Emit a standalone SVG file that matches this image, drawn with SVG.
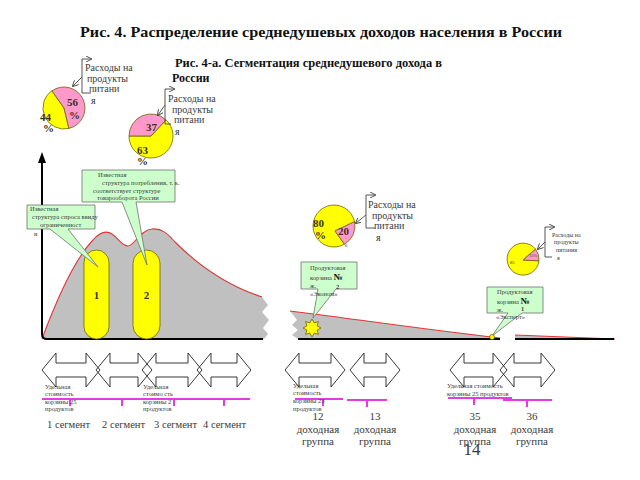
<svg xmlns="http://www.w3.org/2000/svg" width="640" height="480" viewBox="0 0 640 480">
<defs>
<style>
.t{font-family:"Liberation Serif","DejaVu Serif",serif;fill:#3a3a3a}
.h{font-family:"Liberation Serif","DejaVu Serif",serif;font-weight:bold;fill:#111}
.lbl{font-size:10px}
.tiny{font-size:6.5px}
.pn{font-family:"Liberation Serif",serif;font-weight:bold;font-size:11px;fill:#3a3020}
.yel{fill:#ffff00;stroke:#6b6400;stroke-width:0.8}
.pink{fill:#ff99cc;stroke:#6b6400;stroke-width:0.8}
.call{fill:#ccffcc;stroke:#707070;stroke-width:0.8}
.br{fill:none;stroke:#444;stroke-width:0.9}
.dbl{fill:none;stroke:#222;stroke-width:0.9}
.mag{stroke:#e23de2;stroke-width:2;fill:none}
.red{fill:none;stroke:#e03535;stroke-width:1.1}
.axis{fill:none;stroke:#000;stroke-width:2}
</style>
<marker id="ah" markerWidth="6" markerHeight="6" refX="5" refY="3" orient="auto" markerUnits="userSpaceOnUse">
<path d="M0,0 L6,3 L0,6" fill="none" stroke="#444" stroke-width="0.9"/>
</marker>
</defs>
<rect width="640" height="480" fill="#fff"/>

<!-- titles -->
<text class="h" x="80" y="37" font-size="15" textLength="482" lengthAdjust="spacingAndGlyphs">Рис. 4.  Распределение среднедушевых доходов населения в России</text>
<text class="h" x="175" y="67" font-size="12" textLength="267" lengthAdjust="spacingAndGlyphs">Рис. 4-а.  Сегментация среднедушевого дохода в</text>
<text class="h" x="172" y="82" font-size="12">России</text>

<!-- distribution shape -->
<g id="distribution">
<path d="M42,339 C52,312 72,262 93,240 C100,232 106,230 112,234 C118,238 122,246 128,246 C134,246 140,230 152,229 C162,228 168,234 175,242 C195,262 225,285 262,297 L268,305 L262,312 L269,320 L263,328 L268,334 L264,339 Z" fill="#c0c0c0"/>
<path class="red" d="M42,339 C52,312 72,262 93,240 C100,232 106,230 112,234 C118,238 122,246 128,246 C134,246 140,230 152,229 C162,228 168,234 175,242 C195,262 225,285 262,297"/>
<path d="M290,311 C340,317 420,329 493,337 L500,338 L500,339 L298,339 L292,335 L298,330 L292,325 L297,320 Z" fill="#c0c0c0"/>
<path class="red" d="M290,311 C340,317 420,329 500,338"/>
<path d="M515,335 L615,339 L515,339 Z" fill="#c0c0c0"/>
<path class="red" d="M515,335 L615,339"/>
<path class="axis" d="M42,160 L42,334 Q42,339 47,339 L263,339"/>
<path d="M42,152 L38,163 L46,163 Z" fill="#000"/>
<path class="axis" d="M298,339 L500,339"/>
<path class="axis" d="M515,339 L614,339"/>
</g>

<g id="segment1">
<rect class="yel" x="84" y="250" width="25" height="89" rx="12.5"/>
<text class="pn" x="96.5" y="299" text-anchor="middle">1</text>
</g>
<g id="segment2">
<rect class="yel" x="133" y="250" width="27" height="89" rx="13.5"/>
<text class="pn" x="146.5" y="299" text-anchor="middle">2</text>
</g>

<!-- pie 1 -->
<g id="pie1">
<path class="yel" d="M64,108 L68.87,128.43 A21,21 0 0 1 51.95,90.8 Z"/>
<path class="pink" d="M64,108 L51.95,90.8 A21,21 0 1 1 68.87,128.43 Z"/>
<text class="pn" x="67" y="106">56</text>
<text class="pn" x="69" y="119">%</text>
<text class="pn" x="40" y="121">44</text>
<text class="pn" x="43" y="132">%</text>
<path class="br" d="M82,93 L82,59 L91,59" marker-end="url(#ah)"/>
<path class="br" d="M82,93 L91,93"/>
<path class="br" d="M82,77 L73,86" marker-end="url(#ah)"/>
<text class="t lbl" x="85" y="71">Расходы на</text>
<text class="t lbl" x="87" y="82">продукты</text>
<text class="t lbl" x="89" y="92">питани</text>
<text class="t lbl" x="91" y="104">я</text>
</g>

<!-- pie 2 -->
<g id="pie2">
<path class="yel" d="M151,136 L166,119.9 A22,22 0 1 1 129,136 Z"/>
<path class="pink" d="M151,136 L129,136 A22,22 0 0 1 166,119.9 Z"/>
<text class="pn" x="146" y="131">37</text>
<text class="pn" x="137" y="154">63</text>
<text class="pn" x="137" y="165">%</text>
<path class="br" d="M165,124 L165,89 L174,89" marker-end="url(#ah)"/>
<path class="br" d="M165,124 L171,124"/>
<path class="br" d="M165,105 L158,115" marker-end="url(#ah)"/>
<text class="t lbl" x="168" y="102">Расходы на</text>
<text class="t lbl" x="172" y="113">продукты</text>
<text class="t lbl" x="174" y="123">питани</text>
<text class="t lbl" x="175" y="135">я</text>
</g>

<!-- pie 3 -->
<g id="pie3">
<path class="yel" d="M335,231 L344.5,244.19 A21,21 0 1 1 354.54,221.63 Z"/>
<path class="pink" d="M335,231 L354.54,221.63 A21,21 0 0 1 344.5,244.19 Z"/>
<text class="pn" x="313" y="227">80</text>
<text class="pn" x="315" y="239">%</text>
<text class="pn" x="338" y="235">20</text>
<text class="t" x="345" y="247" font-size="5">6</text>
<path class="br" d="M366,228 L366,195 L375,195" marker-end="url(#ah)"/>
<path class="br" d="M366,228 L375,228"/>
<path class="br" d="M366,215 L356,223" marker-end="url(#ah)"/>
<text class="t lbl" x="368" y="208">Расходы на</text>
<text class="t lbl" x="372" y="219">продукты</text>
<text class="t lbl" x="374" y="229">питани</text>
<text class="t lbl" x="376" y="241">я</text>
</g>

<!-- pie 4 -->
<g id="pie4">
<path class="yel" d="M523,260 L538.98,260.84 A16,16 0 1 1 535.6,249.15 Z"/>
<path class="pink" d="M523,260 L535.6,249.15 A16,16 0 0 1 538.98,260.84 Z"/>
<text class="t" x="510" y="264" font-size="4.5" fill="#6b6400">85</text>
<text class="t" x="529" y="257" font-size="4.5" fill="#a03060">15%</text>
<path class="br" d="M545,257 L545,227 L554,227" marker-end="url(#ah)"/>
<path class="br" d="M545,257 L552,257"/>
<path class="br" d="M545,242 L538,249" marker-end="url(#ah)"/>
<text class="t" x="552" y="237" font-size="6">Расходы на</text>
<text class="t" x="554" y="244" font-size="6">продукты</text>
<text class="t" x="556" y="252" font-size="6">питания</text>
<text class="t" x="557" y="260" font-size="6">я</text>
</g>

<!-- callouts -->
<g id="callout-structure">
<path class="call" d="M82,170 H175 V202 H136 L147,265 L122,202 H82 Z"/>
<text class="t tiny" x="98" y="177">Известная</text>
<text class="t tiny" x="102" y="185">структура потребления, т. к.</text>
<text class="t tiny" x="93" y="193">соответствует структуре</text>
<text class="t tiny" x="97" y="200">товарооборота России</text>
</g>
<g id="callout-demand">
<path class="call" d="M27,205 H95 V229 H68 L98,267 L50,229 H27 Z"/>
<text class="t tiny" x="30" y="211">Известная</text>
<text class="t tiny" x="32" y="219">структура спроса ввиду</text>
<text class="t tiny" x="40" y="227">ограниченност</text>
<text class="t tiny" x="34" y="236">и</text>
</g>
<g id="callout-basket2">
<path class="call" d="M301,262 H357 V289 H336 L313,318 L318,289 H301 Z"/>
<text class="t tiny" x="310" y="270">Продуктовая</text>
<text class="t tiny" x="310" y="280">корзина <tspan font-weight="bold" font-size="9" fill="#111">№</tspan></text>
<text class="t tiny" x="310" y="288">ж.</text>
<text class="t tiny" x="336" y="289" font-weight="bold">2</text>
<text class="t tiny" x="310" y="296">«Эконом»</text>
</g>
<g id="callout-basket1">
<path class="call" d="M487,287 H543 V313 H522 L492,336 L508,313 H487 Z"/>
<text class="t tiny" x="497" y="294">Продуктовая</text>
<text class="t tiny" x="497" y="304">корзина <tspan font-weight="bold" font-size="9" fill="#111">№</tspan></text>
<text class="t tiny" x="497" y="312">ж.</text>
<text class="t tiny" x="521" y="311" font-weight="bold">1</text>
<text class="t tiny" x="496" y="319">«Эксперт»</text>
</g>

<g id="star">
<polygon class="yel" points="312,319 314.1,322.9 318.4,321.6 317.1,325.9 321,328 317.1,330.1 318.4,334.4 314.1,333.1 312,337 309.9,333.1 305.6,334.4 306.9,330.1 303,328 306.9,325.9 305.6,321.6 309.9,322.9"/>
</g>
<g id="dot">
<circle class="yel" cx="492" cy="337" r="2.5"/>
</g>

<!-- double arrows -->
<g id="arrows">
<path class="dbl" d="M42,370 L56,353 L56,363 L86,363 L86,353 L100,370 L86,387 L86,377 L56,377 L56,387 Z"/>
<path class="dbl" d="M96,370 L110,353 L110,363 L138,363 L138,353 L152,370 L138,387 L138,377 L110,377 L110,387 Z"/>
<path class="dbl" d="M142,370 L156,353 L156,363 L188,363 L188,353 L202,370 L188,387 L188,377 L156,377 L156,387 Z"/>
<path class="dbl" d="M197,370 L211,353 L211,363 L237,363 L237,353 L251,370 L237,387 L237,377 L211,377 L211,387 Z"/>
<path class="dbl" d="M285,370 L299,353 L299,363 L331,363 L331,353 L345,370 L331,387 L331,377 L299,377 L299,387 Z"/>
<path class="dbl" d="M350,370 L364,353 L364,363 L386,363 L386,353 L400,370 L386,387 L386,377 L364,377 L364,387 Z"/>
<path class="dbl" d="M450,370 L464,353 L464,363 L493,363 L493,353 L507,370 L493,387 L493,377 L464,377 L464,387 Z"/>
<path class="dbl" d="M500,370 L514,353 L514,363 L541,363 L541,353 L555,370 L541,387 L541,377 L514,377 L514,387 Z"/>
</g>

<!-- magenta scales -->
<g id="scales">
<path class="mag" d="M42,399 H250 M70,399 V406 M122,399 V406 M174,399 V406 M224,399 V406"/>
<path class="mag" d="M295,399 H343 M323,399 V406"/>
<path class="mag" d="M347,400 H387 M367,400 V407"/>
<path class="mag" d="M448,398 H512 M474,398 V405"/>
<path class="mag" d="M503,400 H552 M527,400 V407"/>
</g>

<g id="cost-notes">
<text class="t tiny" x="45" y="389">Удельная</text>
<text class="t tiny" x="45" y="396">стоимость</text>
<text class="t tiny" x="45" y="404">корзины 25</text>
<text class="t tiny" x="45" y="411">продуктов</text>
<text class="t tiny" x="143" y="389">Удельная</text>
<text class="t tiny" x="143" y="396">стоимо сть</text>
<text class="t tiny" x="143" y="404">корзины 2</text>
<text class="t tiny" x="143" y="411">продуктов</text>
<text class="t tiny" x="293" y="388">Удельная</text>
<text class="t tiny" x="293" y="395">стоимость</text>
<text class="t tiny" x="293" y="403">корзины 23</text>
<text class="t tiny" x="293" y="411">продуктов</text>
<text class="t tiny" x="447" y="388">Удельная стоимость</text>
<text class="t tiny" x="447" y="396">корзины 25 продуктов</text>
</g>

<g id="labels">
<text class="t" x="47" y="428" font-size="10.5">1 сегмент</text>
<text class="t" x="102" y="428" font-size="10.5">2 сегмент</text>
<text class="t" x="154" y="428" font-size="10.5">3 сегмент</text>
<text class="t" x="203" y="428" font-size="10.5">4 сегмент</text>
<g font-size="11" text-anchor="middle">
<text class="t" x="318" y="420">12</text>
<text class="t" x="318" y="433">доходная</text>
<text class="t" x="318" y="445">группа</text>
<text class="t" x="375" y="420">13</text>
<text class="t" x="375" y="433">доходная</text>
<text class="t" x="375" y="445">группа</text>
<text class="t" x="475" y="420">35</text>
<text class="t" x="475" y="433">доходная</text>
<text class="t" x="475" y="445">группа</text>
<text class="t" x="532" y="420">36</text>
<text class="t" x="532" y="433">доходная</text>
<text class="t" x="532" y="445">группа</text>
</g>
<text class="t" x="472" y="455" font-size="17" text-anchor="middle">14</text>
</g>
</svg>
